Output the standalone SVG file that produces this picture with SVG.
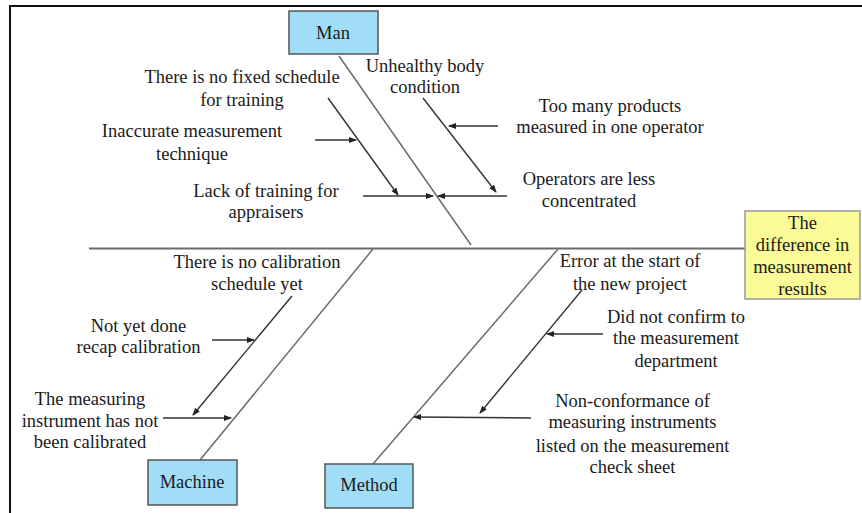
<svg xmlns="http://www.w3.org/2000/svg" width="862" height="513" viewBox="0 0 862 513">
<style>
text{font-family:"Liberation Serif","Times New Roman",serif;font-size:18.5px;fill:#1a1a1a;text-anchor:middle}
.frame{stroke:#111;stroke-width:2;fill:none}
.spine{stroke:#6b6b6b;stroke-width:1.5;fill:none}
.main{stroke:#6b6b6b;stroke-width:2;fill:none}
.arr{stroke:#333;stroke-width:1.4;fill:none;marker-end:url(#ah)}
.cat{fill:#a2ddf7;stroke:#555;stroke-width:1.5}
.eff{fill:#fafa96;stroke:#999;stroke-width:1.5}
</style>
<defs>
<marker id="ah" markerUnits="userSpaceOnUse" markerWidth="8" markerHeight="6" refX="7" refY="3" orient="auto">
<path d="M0,0 L8,3 L0,6 Z" fill="#222"/>
</marker>
</defs>
<rect width="862" height="513" fill="#fff"/>
<path class="frame" d="M10,513 V6 H862"/>
<g id="connectors">
<line class="main" x1="89" y1="248.5" x2="746" y2="248.5"/>
<line class="spine" x1="339" y1="56" x2="471" y2="245"/>
<line class="spine" x1="200" y1="460" x2="373" y2="249"/>
<line class="spine" x1="373" y1="464" x2="558" y2="249"/>
<line class="arr" x1="328" y1="98" x2="398" y2="195"/>
<line class="arr" x1="315" y1="140" x2="356" y2="140"/>
<line class="arr" x1="363" y1="196" x2="433" y2="196"/>
<line class="arr" x1="423" y1="98" x2="496" y2="192"/>
<line class="arr" x1="498" y1="126" x2="449" y2="126"/>
<line class="arr" x1="507" y1="196" x2="438" y2="196"/>
<line class="arr" x1="292" y1="296" x2="193" y2="415"/>
<line class="arr" x1="212" y1="340" x2="254" y2="340"/>
<line class="arr" x1="163" y1="418" x2="231" y2="418"/>
<line class="arr" x1="582" y1="290" x2="480" y2="413"/>
<line class="arr" x1="603" y1="334" x2="547" y2="334"/>
<line class="arr" x1="531" y1="418" x2="414" y2="417"/>
</g>
<g id="man"><rect class="cat" x="289" y="11" width="89" height="43"/><text x="333" y="39">Man</text></g>
<g id="machine"><rect class="cat" x="148" y="460" width="89" height="45"/><text x="192" y="488">Machine</text></g>
<g id="method"><rect class="cat" x="325" y="464" width="88" height="44"/><text x="369" y="491">Method</text></g>
<g id="effect"><rect class="eff" x="745" y="211" width="115" height="88"/>
<text x="802.5" y="229">The</text><text x="802.5" y="251">difference in</text><text x="802.5" y="273">measurement</text><text x="802.5" y="295">results</text></g>
<g id="c-fixed-schedule"><text x="242" y="83">There is no fixed schedule</text><text x="242" y="106">for training</text></g>
<g id="c-inaccurate"><text x="192" y="137">Inaccurate measurement</text><text x="192" y="160">technique</text></g>
<g id="c-lack-training"><text x="266" y="197">Lack of training for</text><text x="266" y="218">appraisers</text></g>
<g id="c-unhealthy"><text x="425" y="72">Unhealthy body</text><text x="425" y="93">condition</text></g>
<g id="c-too-many"><text x="610" y="112">Too many products</text><text x="610" y="133">measured in one operator</text></g>
<g id="c-operators"><text x="589" y="185">Operators are less</text><text x="589" y="207">concentrated</text></g>
<g id="c-no-calibration"><text x="257" y="268">There is no calibration</text><text x="257" y="290">schedule yet</text></g>
<g id="c-recap"><text x="138.5" y="332">Not yet done</text><text x="138.5" y="353">recap calibration</text></g>
<g id="c-not-calibrated"><text x="90" y="405">The measuring</text><text x="90" y="427">instrument has not</text><text x="90" y="448">been calibrated</text></g>
<g id="c-error-start"><text x="630" y="267">Error at the start of</text><text x="630" y="290">the new project</text></g>
<g id="c-not-confirm"><text x="676" y="323">Did not confirm to</text><text x="676" y="344">the measurement</text><text x="676" y="367">department</text></g>
<g id="c-nonconformance"><text x="632.5" y="407">Non-conformance of</text><text x="632.5" y="428">measuring instruments</text><text x="632.5" y="452">listed on the measurement</text><text x="632.5" y="473">check sheet</text></g>
</svg>
